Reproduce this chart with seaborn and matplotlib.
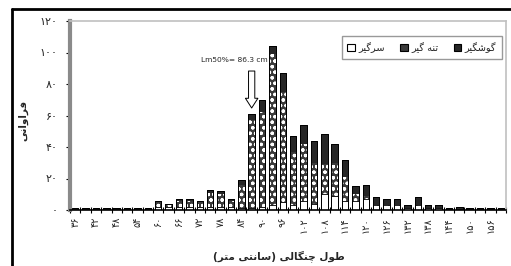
import numpy as np
import pandas as pd
import seaborn as sns
import matplotlib.pyplot as plt
from matplotlib.patches import Patch
from matplotlib.lines import Line2D

# length classes (cm)
bins = ['36', '39', '42', '45', '48', '51', '54', '57', '60', '63', '66', '69',
        '72', '75', '78', '81', '84', '87', '90', '93', '96', '99', '102', '105',
        '108', '111', '114', '117', '120', '123', '126', '129', '132', '135',
        '138', '141', '144', '147', '150', '153', '156', '159']

# gilled (top, black)
gilled = [1, 1, 1, 1, 1, 1, 1, 1, 1, 1, 1, 1, 1, 2, 2, 1, 3, 4, 8, 5, 12, 10,
          12, 14, 19, 12, 11, 5, 7, 5, 4, 4, 2, 5, 2, 2, 1, 2, 1, 1, 1, 1]
# wedged (middle, dotted)
wedged = [0, 0, 0, 0, 0, 0, 0, 0, 3, 1, 4, 4, 3, 9, 8, 4, 15, 56, 60, 96, 70, 34,
          36, 26, 19, 21, 15, 4, 2, 0, 0, 0, 0, 0, 0, 0, 0, 0, 0, 0, 0, 0]
# snagged (bottom, white)
snagged = [0, 0, 0, 0, 0, 0, 0, 0, 2, 2, 2, 2, 2, 2, 2, 2, 1, 1, 2, 3, 5, 3,
           6, 4, 10, 9, 6, 6, 7, 3, 3, 3, 1, 3, 1, 1, 0, 0, 0, 0, 0, 0]

xtick_labels = ['۳۶', '۴۲', '۴۸', '۵۴', '۶۰', '۶۶', '۷۲', '۷۸', '۸۴', '۹۰', '۹۶',
                '۱۰۲', '۱۰۸', '۱۱۴', '۱۲۰', '۱۲۶', '۱۳۲', '۱۳۸', '۱۴۴', '۱۵۰', '۱۵۶']
yticks = [0, 20, 40, 60, 80, 100, 120]
ytick_labels = ['۰', '۲۰', '۴۰', '۶۰', '۸۰', '۱۰۰', '۱۲۰']

series_names = ['سرگیر', 'تنه گیر', 'گوشگیر']
xlabel = 'طول چنگالی (سانتی متر)'
ylabel = 'فراوانی'

# presentation forms: isolated, final, initial, medial
FORMS = {
    'ا': ('\ufe8d', '\ufe8e', None, None),
    'ر': ('\ufead', '\ufeae', None, None),
    'و': ('\ufeed', '\ufeee', None, None),
    'ف': ('\ufed1', '\ufed2', '\ufed3', '\ufed4'),
    'ن': ('\ufee5', '\ufee6', '\ufee7', '\ufee8'),
    'ی': ('\ufbfc', '\ufbfd', '\ufbfe', '\ufbff'),
    'ط': ('\ufec1', '\ufec2', '\ufec3', '\ufec4'),
    'ل': ('\ufedd', '\ufede', '\ufedf', '\ufee0'),
    'چ': ('\ufb7a', '\ufb7b', '\ufb7c', '\ufb7d'),
    'گ': ('\ufb92', '\ufb93', '\ufb94', '\ufb95'),
    'س': ('\ufeb1', '\ufeb2', '\ufeb3', '\ufeb4'),
    'ت': ('\ufe95', '\ufe96', '\ufe97', '\ufe98'),
    'م': ('\ufee1', '\ufee2', '\ufee3', '\ufee4'),
    'ش': ('\ufeb5', '\ufeb6', '\ufeb7', '\ufeb8'),
    'ه': ('\ufee9', '\ufeea', '\ufeeb', '\ufeec'),
}


def rtl(text):
    """shape persian letters and put them in visual (left to right) order"""
    out = []
    for i, ch in enumerate(text):
        if ch not in FORMS:
            out.append({'(': ')', ')': '('}.get(ch, ch))
            continue
        iso, fin, ini, med = FORMS[ch]
        prev = text[i - 1] if i > 0 else ''
        nxt = text[i + 1] if i + 1 < len(text) else ''
        join_prev = prev in FORMS and FORMS[prev][2] is not None
        join_next = nxt in FORMS and ini is not None
        if join_prev and join_next:
            out.append(med)
        elif join_prev:
            out.append(fin)
        elif join_next:
            out.append(ini)
        else:
            out.append(iso)
    return ''.join(reversed(out))


sns.set_style('white')
plt.rcParams['font.family'] = ['DejaVu Sans']
plt.rcParams['hatch.color'] = 'white'
plt.rcParams['hatch.linewidth'] = 0.9

df = pd.DataFrame({'bin': bins, 'gilled': gilled, 'wedged': wedged, 'snagged': snagged})
df['lower'] = df['snagged'] + df['wedged']
df['total'] = df['lower'] + df['gilled']

fig = plt.figure(figsize=(5.11, 2.66), dpi=100)
ax = fig.add_axes([70 / 511, 1 - 210 / 266, 436 / 511, 189 / 266])

bw = 0.62
sns.barplot(data=df, x='bin', y='total', order=bins, color='#262626', width=bw,
            errorbar=None, edgecolor='black', linewidth=0.6, ax=ax)
sns.barplot(data=df, x='bin', y='lower', order=bins, color='#3a3a3a', width=bw,
            errorbar=None, hatch='ooo', edgecolor='white', linewidth=0, ax=ax)
sns.barplot(data=df, x='bin', y='snagged', order=bins, color='white', width=bw,
            errorbar=None, edgecolor='black', linewidth=0.6, ax=ax)
sns.barplot(data=df, x='bin', y='total', order=bins, width=bw, errorbar=None,
            facecolor='none', edgecolor='black', linewidth=0.7, ax=ax)

ax.set_xlim(-0.5, len(bins) - 0.5)
ax.set_ylim(0, 120)
ax.set_xlabel('')
ax.set_ylabel('')

ax.set_xticks(range(0, len(bins) - 1, 2))
ax.set_xticklabels(xtick_labels, rotation=90, fontsize=7)
ax.set_xticks(np.arange(-0.5, len(bins), 1), minor=True)
ax.tick_params(axis='x', which='major', length=0, pad=5)
ax.tick_params(axis='x', which='minor', length=5, width=0.8, direction='inout',
               color='black', bottom=True)
ax.set_yticks(yticks)
ax.set_yticklabels(ytick_labels, fontsize=8)
ax.tick_params(axis='y', length=3, width=0.8, direction='out', color='black',
               left=True, pad=6)

ax.spines['left'].set_color('#8a8a8a')
ax.spines['left'].set_linewidth(3)
ax.spines['top'].set_color('#c0c0c0')
ax.spines['right'].set_color('#c0c0c0')
ax.spines['top'].set_linewidth(1.2)
ax.spines['right'].set_linewidth(1.2)
ax.spines['bottom'].set_color('black')
ax.spines['bottom'].set_linewidth(1.2)

# Lm50 arrow
ax.annotate('', xy=(17, 63), xytext=(17, 90),
            arrowprops=dict(arrowstyle='simple,head_length=0.7,head_width=0.9,tail_width=0.45',
                            fc='white', ec='black', lw=0.7))
ax.text(15.3, 95.5, 'Lm50%= 86.3 cm', fontsize=5.4, ha='center', va='center')

handles = [Patch(facecolor='white', edgecolor='black', linewidth=0.8),
           Patch(facecolor='#3a3a3a', edgecolor='black', linewidth=0.8),
           Patch(facecolor='#262626', edgecolor='black', linewidth=0.8)]
leg = ax.legend(handles, [rtl(s) for s in series_names], ncol=3, fontsize=7,
                loc='upper right', bbox_to_anchor=(0.99, 0.92), borderaxespad=0,
                frameon=True, fancybox=False, edgecolor='#808080',
                handlelength=0.8, handleheight=0.8, handletextpad=0.3,
                columnspacing=1.6, borderpad=0.6)
leg.get_frame().set_linewidth(1.0)

fig.text(279 / 511, 1 - 256 / 266, rtl(xlabel), fontsize=7.5, fontweight='bold',
         ha='center', va='center')
fig.text(23 / 511, 1 - 120 / 266, rtl(ylabel), fontsize=7.5, fontweight='bold',
         ha='center', va='center', rotation=90)

# outer frame
fig.add_artist(Line2D([11.5 / 511, 1], [1 - 9 / 266, 1 - 9 / 266], color='black',
                      lw=2, transform=fig.transFigure))
fig.add_artist(Line2D([11.5 / 511, 11.5 / 511], [0, 1 - 9 / 266], color='black',
                      lw=2, transform=fig.transFigure))

fig.savefig('out.png', dpi=100)
